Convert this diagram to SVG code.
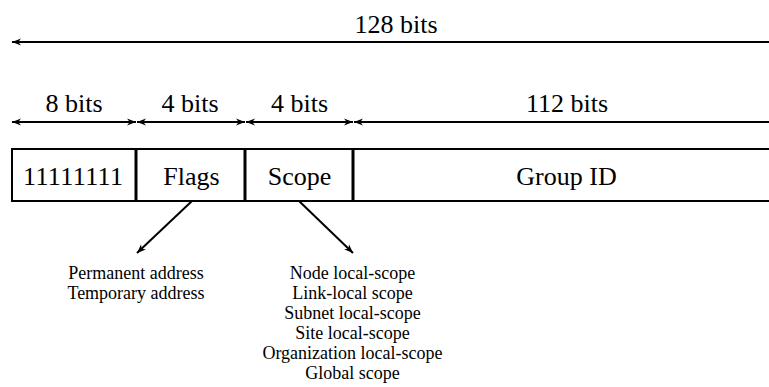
<svg xmlns="http://www.w3.org/2000/svg" width="769" height="387" viewBox="0 0 769 387">
<style>
text{font-family:'Liberation Serif','Times New Roman',Times,serif;fill:#000;text-anchor:middle}
.lbl{font-size:26px}
.lst{font-size:18px}
.box{fill:#fff;stroke:#000;stroke-width:2}
.dim{stroke:#000;stroke-width:2;fill:none}
.div{stroke:#000;stroke-width:3}
</style>
<defs>
<marker id="ah" viewBox="0 0 10 10" refX="10" refY="5" markerWidth="9" markerHeight="9" markerUnits="userSpaceOnUse" orient="auto-start-reverse">
<path d="M0,1 L10,5 L0,9 L3,5 z" fill="#000"/>
</marker>
</defs>
<g id="connectors">
<line class="dim" x1="12" y1="42" x2="790" y2="42" marker-start="url(#ah)" marker-end="url(#ah)"/>
<line class="dim" x1="12" y1="122" x2="136" y2="122" marker-start="url(#ah)" marker-end="url(#ah)"/>
<line class="dim" x1="137" y1="122" x2="245" y2="122" marker-start="url(#ah)" marker-end="url(#ah)"/>
<line class="dim" x1="246" y1="122" x2="353" y2="122" marker-start="url(#ah)" marker-end="url(#ah)"/>
<line class="dim" x1="354" y1="122" x2="790" y2="122" marker-start="url(#ah)" marker-end="url(#ah)"/>
<line class="dim" x1="192" y1="201" x2="137" y2="253" marker-end="url(#ah)"/>
<line class="dim" x1="299" y1="201" x2="353" y2="253" marker-end="url(#ah)"/>
</g>
<g id="labels">
<text class="lbl" x="396" y="33">128 bits</text>
<text class="lbl" x="74" y="112">8 bits</text>
<text class="lbl" x="190" y="112">4 bits</text>
<text class="lbl" x="299.5" y="112">4 bits</text>
<text class="lbl" x="567" y="112">112 bits</text>
</g>
<g id="prefix">
<rect class="box" x="12" y="149" width="124" height="52"/>
<text class="lbl" x="73" y="185" textLength="100" lengthAdjust="spacing">11111111</text>
</g>
<g id="flags">
<rect class="box" x="136" y="149" width="109" height="52"/>
<text class="lbl" x="191.5" y="185">Flags</text>
</g>
<g id="scope">
<rect class="box" x="245" y="149" width="108" height="52"/>
<text class="lbl" x="299.5" y="185">Scope</text>
</g>
<g id="groupid">
<rect class="box" x="353" y="149" width="430" height="52"/>
<text class="lbl" x="566.5" y="185">Group ID</text>
</g>
<g id="dividers">
<line class="div" x1="136" y1="149" x2="136" y2="201"/>
<line class="div" x1="245" y1="149" x2="245" y2="201"/>
<line class="div" x1="353" y1="149" x2="353" y2="201"/>
</g>
<g id="flag-values">
<text class="lst" x="136" y="279">Permanent address</text>
<text class="lst" x="136" y="299">Temporary address</text>
</g>
<g id="scope-values">
<text class="lst" x="352.5" y="279">Node local-scope</text>
<text class="lst" x="352.5" y="299">Link-local scope</text>
<text class="lst" x="352.5" y="319">Subnet local-scope</text>
<text class="lst" x="352.5" y="339">Site local-scope</text>
<text class="lst" x="352.5" y="359">Organization local-scope</text>
<text class="lst" x="352.5" y="379">Global scope</text>
</g>
</svg>
